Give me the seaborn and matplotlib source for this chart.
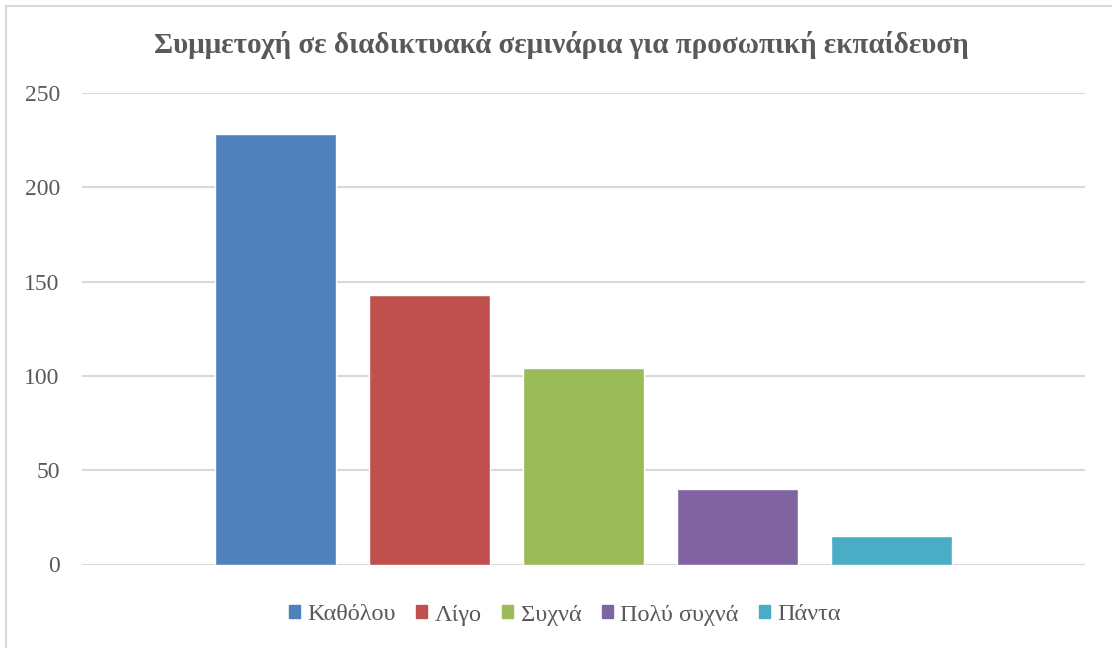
import matplotlib
matplotlib.use("Agg")
import matplotlib.pyplot as plt
import matplotlib.patches as mpatches
import seaborn as sns

# values
categories = ["Καθόλου", "Λίγο", "Συχνά", "Πολύ συχνά", "Πάντα"]
counts = [228, 143, 104, 40, 15]
colors = ["#4F81BD", "#C0504D", "#9BBB59", "#8064A2", "#4BACC6"]
yticks = [0, 50, 100, 150, 200, 250]
title = "Συμμετοχή σε διαδικτυακά σεμινάρια για προσωπική εκπαίδευση"

sns.set_theme(style="white")
plt.rcParams["font.family"] = ["Liberation Serif", "DejaVu Serif"]
text_color = "#595959"
grid_color = "#D9D9D9"

fig = plt.figure(figsize=(11.12, 6.48), dpi=100)
ax = fig.add_axes([82 / 1112, 1 - 564.5 / 648, (1085 - 82) / 1112, (564.5 - 93) / 648])

sns.barplot(x=categories, y=counts, hue=categories, palette=colors,
            width=0.79, saturation=1, legend=False, ax=ax)

ax.set_ylim(0, 250)
ax.set_xlim(-1.256, len(categories) - 1 + 1.256)
ax.set_yticks(yticks)
ax.set_xticks([])
ax.set_xlabel("")
ax.set_ylabel("")
ax.tick_params(axis="y", length=0, pad=16, labelsize=17, labelcolor=text_color)
ax.yaxis.grid(True, color=grid_color, linewidth=1.5)
ax.set_axisbelow(True)
for spine in ax.spines.values():
    spine.set_visible(False)

fig.text(561 / 1112, 1 - 45 / 648, title, ha="center", va="center",
         fontsize=21, fontweight="bold", color=text_color)

handles = [mpatches.Patch(color=c, label=l) for c, l in zip(colors, categories)]
fig.legend(handles=handles, loc="center", bbox_to_anchor=(565 / 1112, 1 - 615 / 648),
           ncol=5, frameon=False, fontsize=17.5, handlelength=0.45, handleheight=0.45,
           handletextpad=0.3, columnspacing=0.85, labelcolor=text_color)

# outer chart border
fig.patches.append(mpatches.Rectangle((6 / 1112, -0.01), 1.02, 1 - 6 / 648 + 0.01,
                                      transform=fig.transFigure, fill=False,
                                      edgecolor=grid_color, linewidth=1.5))

fig.savefig("out.png", dpi=100)
